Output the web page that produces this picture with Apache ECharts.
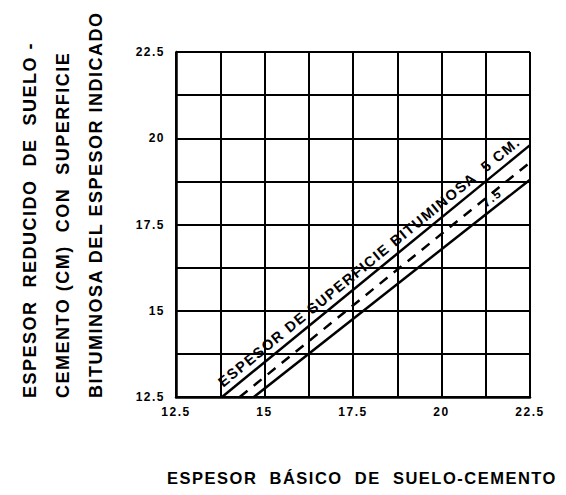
<!DOCTYPE html>
<html>
<head>
<meta charset="utf-8">
<script src="https://cdn.jsdelivr.net/npm/echarts@6/dist/echarts.min.js"></script>
<style>
html,body{margin:0;padding:0;background:#fff;}
#chart{width:566px;height:495px;}
#chart svg text{letter-spacing:1.5px;}
</style>
</head>
<body>
<div id="chart"></div>
<script>
// ---- data ----
var xTickLabels = ['12.5', '15', '17.5', '20', '22.5'];
var yTickLabels = ['12.5', '15', '17.5', '20', '22.5'];
// line for 5 cm bituminous surface (solid)
var line5X = [13.8, 22.5];
var line5Y = [12.5, 19.8];
// intermediate line (dashed)
var lineMidX = [14.3, 22.5];
var lineMidY = [12.5, 19.3];
// line for 7.5 cm bituminous surface (solid)
var line75X = [14.7, 22.5];
var line75Y = [12.5, 18.8];

var yTitleLines = [
  'ESPESOR  REDUCIDO  DE  SUELO -',
  'CEMENTO (CM)  CON  SUPERFICIE',
  'BITUMINOSA DEL ESPESOR INDICADO'
];
var xTitle = 'ESPESOR  BÁSICO  DE  SUELO-CEMENTO';
var label5 = 'ESPESOR DE SUPERFICIE BITUMINOSA  5 CM.';
var label75 = '7.5';

function pairs(xs, ys) { return xs.map(function (x, i) { return [x, ys[i]]; }); }
function tickFmt(labels) {
  return function (v) {
    for (var i = 0; i < labels.length; i++) {
      if (Math.abs(parseFloat(labels[i]) - v) < 1e-6) return labels[i];
    }
    return '';
  };
}

var FONT = 'Liberation Sans';
var chart = echarts.init(document.getElementById('chart'), null, {renderer: 'svg'});
var option = {
  animation: false,
  backgroundColor: '#fff',
  grid: {left: 176, right: 36, top: 52, bottom: 98},
  xAxis: {
    type: 'value', min: 12.5, max: 22.5, interval: 1.25,
    axisLine: {lineStyle: {color: '#000', width: 2.5}},
    axisTick: {show: false},
    axisLabel: {formatter: tickFmt(xTickLabels), color: '#000', fontFamily: FONT, fontWeight: 'bold', fontSize: 12, margin: 9},
    splitLine: {lineStyle: {color: '#000', width: 2}}
  },
  yAxis: {
    type: 'value', min: 12.5, max: 22.5, interval: 1.25,
    axisLine: {show: true, lineStyle: {color: '#000', width: 2.5}},
    axisTick: {show: false},
    axisLabel: {formatter: tickFmt(yTickLabels), color: '#000', fontFamily: FONT, fontWeight: 'bold', fontSize: 12, margin: 11},
    splitLine: {lineStyle: {color: '#000', width: 2}}
  },
  series: [
    {type: 'line', data: pairs(line5X, line5Y), symbol: 'none', lineStyle: {color: '#000', width: 2.5}},
    {type: 'line', data: pairs(lineMidX, lineMidY), symbol: 'none', lineStyle: {color: '#000', width: 2.5, type: [10, 8]}},
    {type: 'line', data: pairs(line75X, line75Y), symbol: 'none', lineStyle: {color: '#000', width: 2.5}}
  ]
};
chart.setOption(option);

// decorative texts placed via the chart's own coordinate system
function lineLabel(xs, ys, atX, text, size, gap) {
  var a = chart.convertToPixel({gridIndex: 0}, [xs[0], ys[0]]);
  var b = chart.convertToPixel({gridIndex: 0}, [xs[xs.length - 1], ys[ys.length - 1]]);
  var t = (atX - xs[0]) / (xs[xs.length - 1] - xs[0]);
  var p = chart.convertToPixel({gridIndex: 0}, [atX, ys[0] + t * (ys[ys.length - 1] - ys[0])]);
  var ang = Math.atan2(a[1] - b[1], b[0] - a[0]);
  return {
    type: 'text', x: p[0], y: p[1], rotation: ang,
    style: {text: text, x: 0, y: -gap, textAlign: 'left', textVerticalAlign: 'bottom',
      fill: '#000', font: 'bold ' + size + 'px "' + FONT + '"'}
  };
}

var graphics = [];
var yx = [30, 63, 96];
yTitleLines.forEach(function (s, i) {
  graphics.push({
    type: 'text', x: yx[i], y: 398, rotation: Math.PI / 2,
    style: {text: s, textAlign: 'left', textVerticalAlign: 'middle', fill: '#000',
      font: 'bold 18px "' + FONT + '"'}
  });
});
graphics.push({
  type: 'text', x: 362, y: 478,
  style: {text: xTitle, textAlign: 'center', textVerticalAlign: 'middle', fill: '#000',
    font: 'bold 16.5px "' + FONT + '"'}
});
graphics.push(lineLabel(line5X, line5Y, 13.95, label5, 14.5, 4));
graphics.push(lineLabel(line75X, line75Y, 21.35, label75, 12, 3));
chart.setOption({graphic: graphics});
</script>
</body>
</html>
